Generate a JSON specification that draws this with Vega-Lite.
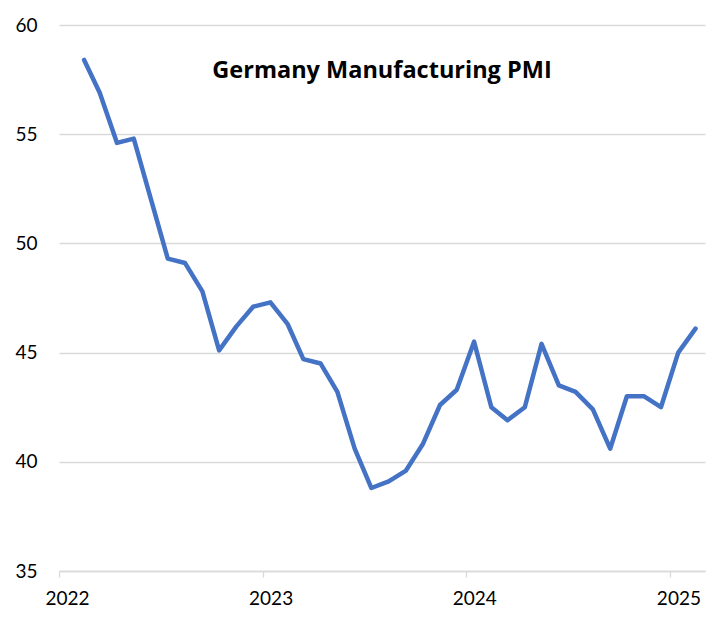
{
  "$schema": "https://vega.github.io/schema/vega-lite/v6.json",
  "autosize": "none",
  "width": 646,
  "height": 546,
  "padding": {"left": 59, "top": 25, "right": 23, "bottom": 57},
  "background": "white",
  "config": {
    "view": {"stroke": null},
    "font": "Lato",
    "axis": {"labelFont": "Lato", "labelFontSize": 19, "labelColor": "#000000", "gridColor": "#d9d9d9", "gridWidth": 1.3, "domainColor": "#d9d9d9", "tickColor": "#d9d9d9", "domainWidth": 1.3, "tickWidth": 1.3, "title": null}
  },
  "title": {"text": "Germany Manufacturing PMI", "font": "Open Sans", "fontSize": 23.5, "fontWeight": "bold", "color": "#000000", "anchor": "middle", "frame": "group", "offset": -66},
  "data": {"values": [
    {"date": "2022-02-15", "pmi": 58.4},
    {"date": "2022-03-15", "pmi": 56.9},
    {"date": "2022-04-15", "pmi": 54.6},
    {"date": "2022-05-15", "pmi": 54.8},
    {"date": "2022-06-15", "pmi": 52.0},
    {"date": "2022-07-15", "pmi": 49.3},
    {"date": "2022-08-15", "pmi": 49.1},
    {"date": "2022-09-15", "pmi": 47.8},
    {"date": "2022-10-15", "pmi": 45.1},
    {"date": "2022-11-15", "pmi": 46.2},
    {"date": "2022-12-15", "pmi": 47.1},
    {"date": "2023-01-15", "pmi": 47.3},
    {"date": "2023-02-15", "pmi": 46.3},
    {"date": "2023-03-15", "pmi": 44.7},
    {"date": "2023-04-15", "pmi": 44.5},
    {"date": "2023-05-15", "pmi": 43.2},
    {"date": "2023-06-15", "pmi": 40.6},
    {"date": "2023-07-15", "pmi": 38.8},
    {"date": "2023-08-15", "pmi": 39.1},
    {"date": "2023-09-15", "pmi": 39.6},
    {"date": "2023-10-15", "pmi": 40.8},
    {"date": "2023-11-15", "pmi": 42.6},
    {"date": "2023-12-15", "pmi": 43.3},
    {"date": "2024-01-15", "pmi": 45.5},
    {"date": "2024-02-15", "pmi": 42.5},
    {"date": "2024-03-15", "pmi": 41.9},
    {"date": "2024-04-15", "pmi": 42.5},
    {"date": "2024-05-15", "pmi": 45.4},
    {"date": "2024-06-15", "pmi": 43.5},
    {"date": "2024-07-15", "pmi": 43.2},
    {"date": "2024-08-15", "pmi": 42.4},
    {"date": "2024-09-15", "pmi": 40.6},
    {"date": "2024-10-15", "pmi": 43.0},
    {"date": "2024-11-15", "pmi": 43.0},
    {"date": "2024-12-15", "pmi": 42.5},
    {"date": "2025-01-15", "pmi": 45.0},
    {"date": "2025-02-15", "pmi": 46.1}
  ]},
  "mark": {"type": "line", "color": "#4472C4", "strokeWidth": 4.5, "strokeCap": "round", "strokeJoin": "round"},
  "encoding": {
    "x": {
      "field": "date", "type": "temporal",
      "scale": {"domain": [{"year": 2022, "month": 1, "date": 1}, {"year": 2025, "month": 3, "date": 4}]},
      "axis": {"values": [{"year": 2022, "month": 1, "date": 1}, {"year": 2023, "month": 1, "date": 1}, {"year": 2024, "month": 1, "date": 1}, {"year": 2025, "month": 1, "date": 1}], "format": "%Y", "grid": false, "tickSize": 6, "labelPadding": 12, "labelOffset": 8, "labelFlush": false}
    },
    "y": {
      "field": "pmi", "type": "quantitative",
      "scale": {"domain": [35, 60], "nice": false, "zero": false},
      "axis": {"values": [35, 40, 45, 50, 55, 60], "domain": false, "ticks": false, "labelPadding": 22, "grid": true}
    }
  }
}
